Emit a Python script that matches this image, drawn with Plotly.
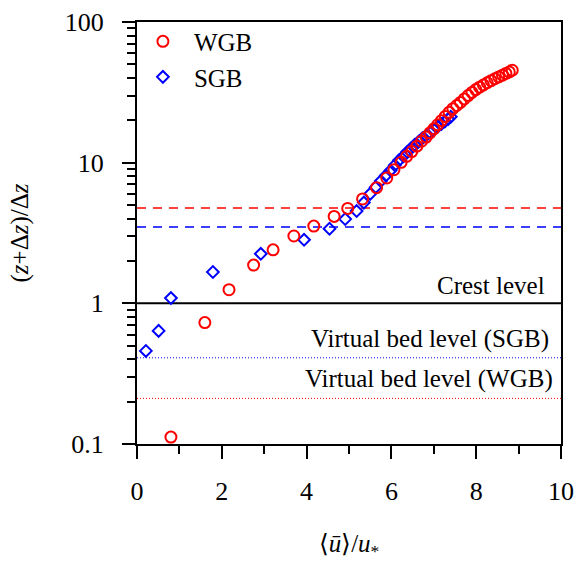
import plotly.graph_objects as go

# ---- data ----
wgb_x = [0.80, 1.60, 2.17, 2.75, 3.21, 3.70, 4.17, 4.65, 4.97, 5.32, 5.65, 5.89, 6.06,
         6.23, 6.36, 6.48, 6.60, 6.71, 6.82, 6.91, 7.00, 7.09, 7.18, 7.27, 7.36, 7.45,
         7.54, 7.63, 7.72, 7.81, 7.90, 7.99, 8.08, 8.17, 8.26, 8.35, 8.44, 8.53, 8.62,
         8.70, 8.78, 8.85]
wgb_y = [0.112, 0.73, 1.25, 1.87, 2.40, 3.01, 3.54, 4.15, 4.73, 5.52, 6.64, 7.78, 8.91,
         10.05, 11.1, 12.0, 13.1, 14.2, 15.2, 16.3, 17.4, 18.6, 19.9, 21.3, 22.8, 24.2,
         25.5, 26.8, 28.4, 30.0, 31.6, 33.1, 34.4, 35.7, 37.0, 38.3, 39.5, 40.7, 41.9,
         43.1, 44.2, 45.4]

sgb_x = [0.21, 0.51, 0.80, 1.79, 2.92, 3.94, 4.54, 4.91, 5.18, 5.35, 5.50, 5.63, 5.75,
         5.87, 5.98, 6.08, 6.18, 6.28, 6.37, 6.46, 6.55, 6.64, 6.73, 6.82, 6.91, 7.00,
         7.09, 7.18, 7.26, 7.34, 7.40]
sgb_y = [0.459, 0.637, 1.09, 1.67, 2.25, 2.83, 3.39, 3.97, 4.53, 5.2, 6.0, 6.7, 7.4,
         8.1, 8.8, 9.6, 10.4, 11.1, 11.9, 12.6, 13.4, 14.1, 14.9, 15.6, 16.4, 17.2,
         18.0, 18.8, 19.6, 20.4, 21.2]

x_span = [0, 10]
wgb_dash_level = 4.76
sgb_dash_level = 3.49
crest_level = 1.0
sgb_virtual_bed = 0.41
wgb_virtual_bed = 0.211

FONT = "Liberation Serif"
fig = go.Figure()

fig.add_trace(go.Scatter(x=x_span, y=[wgb_dash_level] * 2, mode="lines",
                         line=dict(color="red", width=1.5, dash="9px,7px"),
                         showlegend=False, hoverinfo="skip"))
fig.add_trace(go.Scatter(x=x_span, y=[sgb_dash_level] * 2, mode="lines",
                         line=dict(color="blue", width=1.5, dash="9px,7px"),
                         showlegend=False, hoverinfo="skip"))
fig.add_trace(go.Scatter(x=x_span, y=[crest_level] * 2, mode="lines",
                         line=dict(color="black", width=2),
                         showlegend=False, hoverinfo="skip"))
fig.add_trace(go.Scatter(x=x_span, y=[sgb_virtual_bed] * 2, mode="lines",
                         line=dict(color="blue", width=1, dash="1px,2px"),
                         showlegend=False, hoverinfo="skip"))
fig.add_trace(go.Scatter(x=x_span, y=[wgb_virtual_bed] * 2, mode="lines",
                         line=dict(color="red", width=1, dash="1px,2px"),
                         showlegend=False, hoverinfo="skip"))

fig.add_trace(go.Scatter(x=sgb_x, y=sgb_y, mode="markers", name="SGB",
                         legendgroup="b", legendrank=2,
                         marker=dict(symbol="diamond-open", size=9, color="blue",
                                     line=dict(width=2, color="blue"))))
fig.add_trace(go.Scatter(x=wgb_x, y=wgb_y, mode="markers", name="WGB",
                         legendgroup="a", legendrank=1,
                         marker=dict(symbol="circle-open", size=11, color="red",
                                     line=dict(width=2, color="red"))))

annots = [
    dict(x=9.67, y=0, text="Crest level", yshift=2),
    dict(x=9.76, y=-0.387, text="Virtual bed level (SGB)", yshift=3),
    dict(x=9.86, y=-0.676, text="Virtual bed level (WGB)", yshift=3),
]
for a in annots:
    fig.add_annotation(x=a["x"], y=a["y"], text=a["text"], xref="x", yref="y",
                       xanchor="right", yanchor="bottom", yshift=a["yshift"],
                       showarrow=False, font=dict(family=FONT, size=25, color="black"))

axis_common = dict(showline=True, linewidth=2, linecolor="black", mirror=True,
                   ticks="outside", tickwidth=2, tickcolor="black", ticklen=13,
                   showgrid=False, zeroline=False, automargin=False,
                   tickfont=dict(family=FONT, size=26, color="black"))

fig.update_xaxes(range=[0, 10], dtick=2, tick0=0,
                 minor=dict(ticks="outside", ticklen=8, dtick=1, tickwidth=2,
                            tickcolor="black", showgrid=False),
                 title=dict(text="⟨<i>ū</i>⟩/<i>u</i><sub>*</sub>",
                            font=dict(family=FONT, size=25, color="black"), standoff=38),
                 ticklabelstandoff=10,
                 **axis_common)
fig.update_yaxes(type="log", range=[-1, 2], dtick=1,
                 minor=dict(ticks="outside", ticklen=8, dtick="D1", tickwidth=2,
                            tickcolor="black", showgrid=False),
                 title=dict(text="(<i>z</i>+Δ<i>z</i>)/Δ<i>z</i>",
                            font=dict(family=FONT, size=25, color="black"), standoff=29),
                 ticklabelstandoff=13,
                 **axis_common)

fig.update_layout(
    width=574, height=561,
    margin=dict(l=137, r=13, t=22, b=117),
    paper_bgcolor="white", plot_bgcolor="white",
    font=dict(family=FONT, size=25, color="black"),
    legend=dict(x=-0.012, y=1.008, xanchor="left", yanchor="top",
                bgcolor="rgba(0,0,0,0)", tracegroupgap=0, itemwidth=52,
                font=dict(family=FONT, size=25, color="black")),
)

fig.write_html("out.html")
